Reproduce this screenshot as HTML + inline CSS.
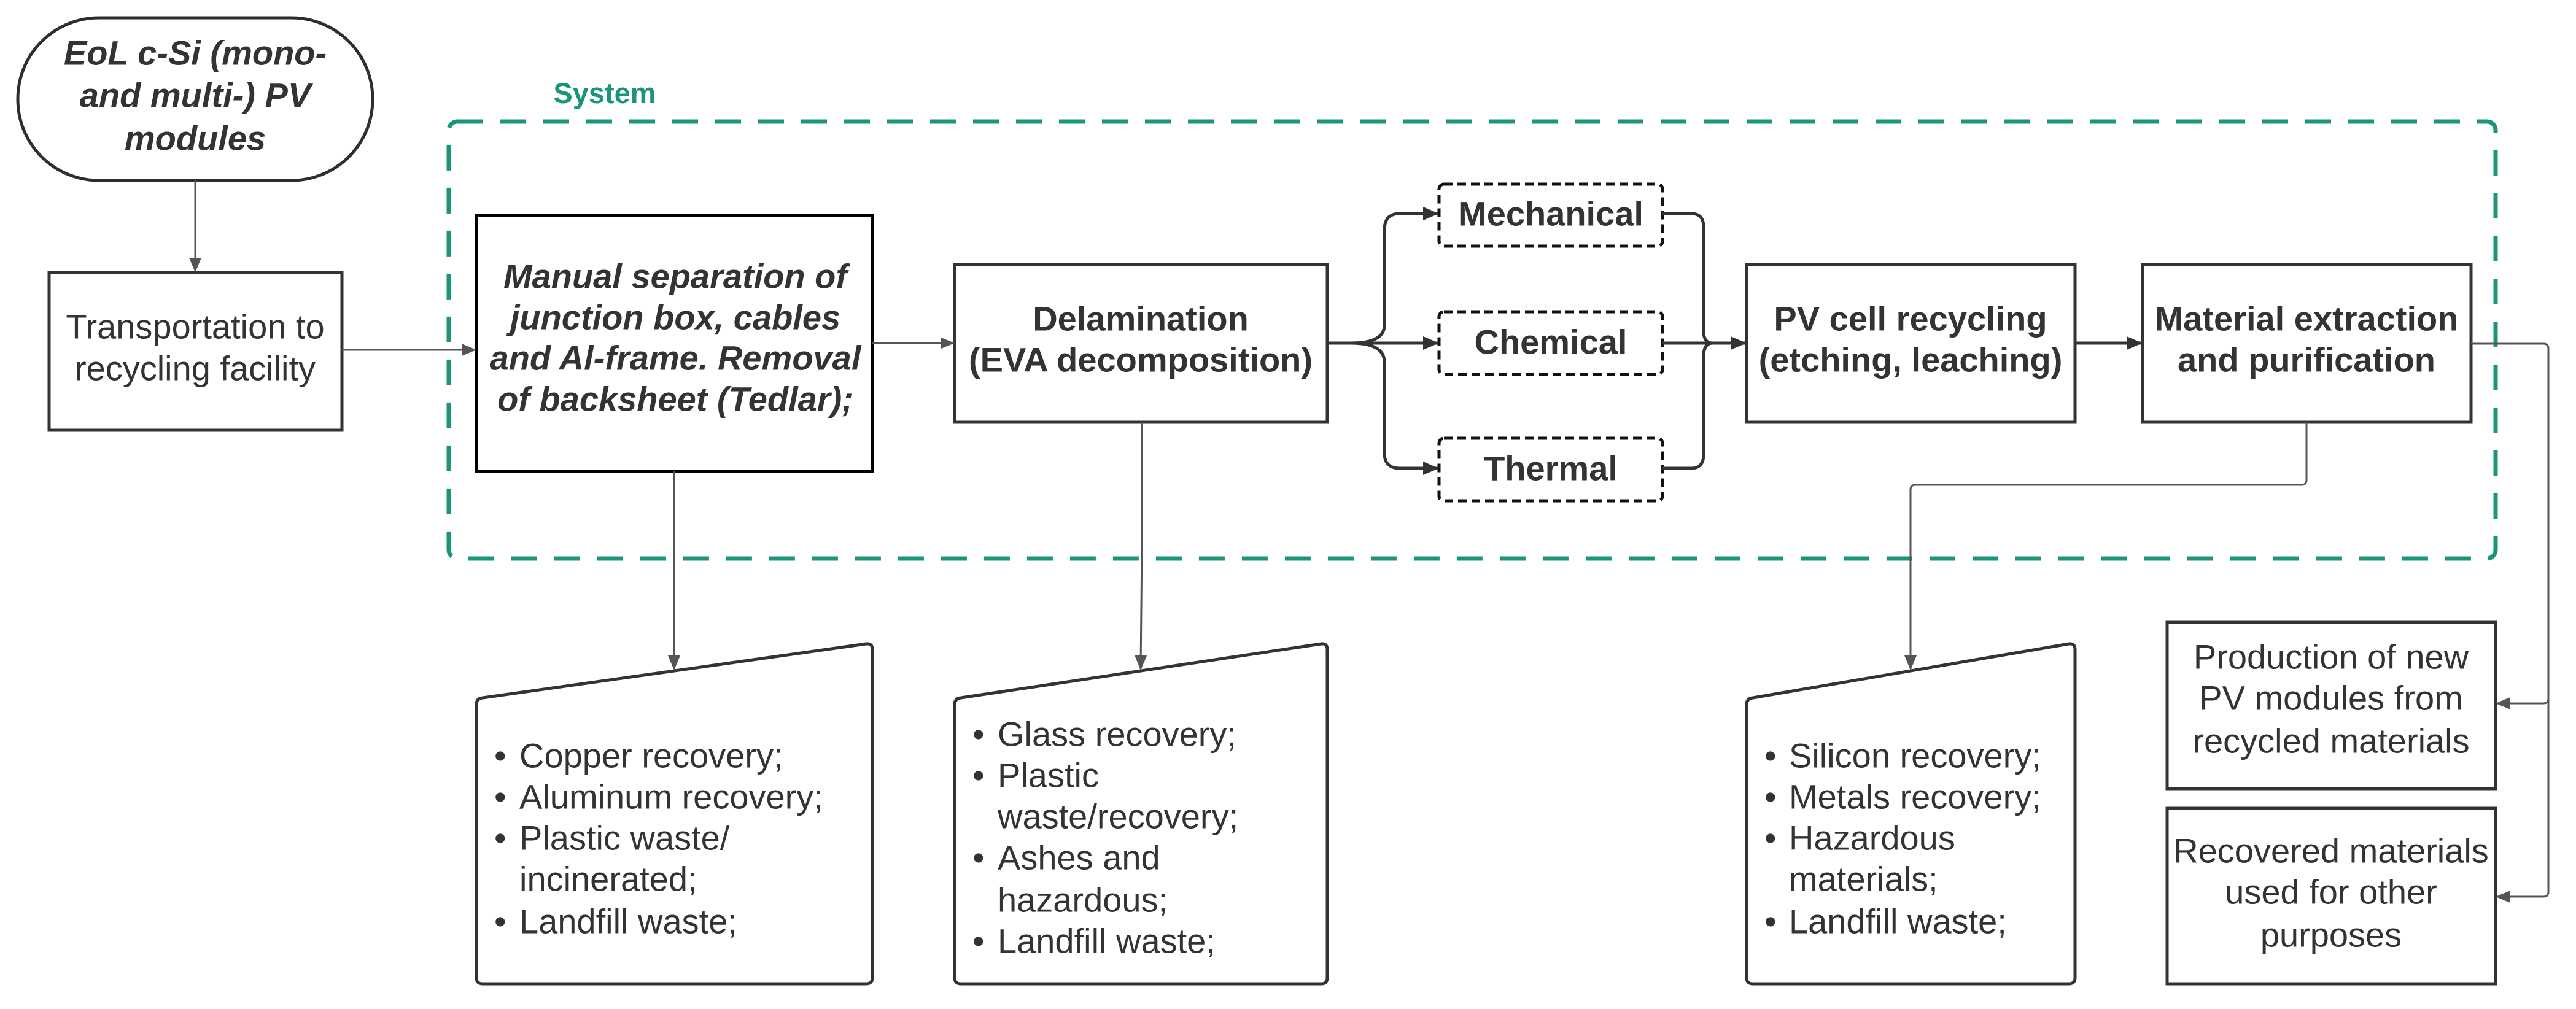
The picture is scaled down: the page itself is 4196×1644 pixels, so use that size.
<!DOCTYPE html>
<html><head><meta charset="utf-8"><style>
html,body{margin:0;padding:0;background:#fff;}
svg{display:block;}
text{font-family:"Liberation Sans",Arial,sans-serif;fill:#333;font-size:56px;}
.b{font-weight:bold;}
.bi{font-weight:bold;font-style:italic;}
</style></head><body>
<svg width="4196" height="1644" viewBox="0 0 4196 1644" xmlns="http://www.w3.org/2000/svg">
<defs>
<marker id="a" markerWidth="22" markerHeight="22" refX="20" refY="11" orient="auto" markerUnits="userSpaceOnUse" viewBox="0 0 22 22"><path d="M0,2 L22,11 L0,20 z" fill="#555"/></marker>
<marker id="at" markerWidth="26" markerHeight="26" refX="24" refY="13" orient="auto" markerUnits="userSpaceOnUse" viewBox="0 0 26 26"><path d="M0,2 L26,13 L0,24 z" fill="#333"/></marker>
<marker id="am" markerWidth="24" markerHeight="24" refX="22" refY="12" orient="auto" markerUnits="userSpaceOnUse" viewBox="0 0 24 24"><path d="M0,2 L24,12 L0,22 z" fill="#555"/></marker>
</defs>
<rect width="4196" height="1644" fill="#fff"/>
<rect x="731" y="198" width="3334" height="712" rx="14" fill="none" stroke="#1a957a" stroke-width="7" stroke-dasharray="42,28"/>
<text x="985" y="168" text-anchor="middle" class="b" style="fill:#1a957a;font-size:47px">System</text>

<rect x="29" y="29" width="578" height="265" rx="132" fill="#fff" stroke="#2b2e33" stroke-width="5"/>
<g text-anchor="middle" dominant-baseline="central">
<text x="318" y="86" class="bi">EoL c-Si (mono-</text>
<text x="318" y="155" class="bi">and multi-) PV</text>
<text x="318" y="225" class="bi">modules</text>
</g>
<rect x="80" y="444" width="477" height="257" fill="#fff" stroke="#333" stroke-width="5"/>
<text x="318" y="532" text-anchor="middle" dominant-baseline="central">Transportation to</text>
<text x="318" y="600" text-anchor="middle" dominant-baseline="central">recycling facility</text>
<rect x="776" y="351" width="645" height="417" fill="#fff" stroke="#000" stroke-width="6"/>
<g text-anchor="middle" dominant-baseline="central">
<text x="1100" y="450" class="bi">Manual separation of</text>
<text x="1100" y="517" class="bi">junction box, cables</text>
<text x="1100" y="583" class="bi">and Al-frame. Removal</text>
<text x="1100" y="650" class="bi">of backsheet (Tedlar);</text>
</g>
<rect x="1555" y="431" width="607" height="257" fill="#fff" stroke="#333" stroke-width="5"/>
<text x="1858" y="519" text-anchor="middle" dominant-baseline="central" class="b">Delamination</text>
<text x="1858" y="586" text-anchor="middle" dominant-baseline="central" class="b">(EVA decomposition)</text>
<g fill="#fff" stroke="#111" stroke-width="5" stroke-dasharray="14,8">
<rect x="2344" y="300" width="364" height="101" rx="8"/>
<rect x="2344" y="508" width="364" height="102" rx="8"/>
<rect x="2344" y="714" width="364" height="102" rx="8"/>
</g>
<text x="2526" y="348" text-anchor="middle" dominant-baseline="central" class="b">Mechanical</text>
<text x="2526" y="557" text-anchor="middle" dominant-baseline="central" class="b">Chemical</text>
<text x="2526" y="763" text-anchor="middle" dominant-baseline="central" class="b">Thermal</text>
<rect x="2845" y="431" width="535" height="257" fill="#fff" stroke="#333" stroke-width="5"/>
<text x="3112" y="519" text-anchor="middle" dominant-baseline="central" class="b">PV cell recycling</text>
<text x="3112" y="586" text-anchor="middle" dominant-baseline="central" class="b">(etching, leaching)</text>
<rect x="3490" y="431" width="535" height="257" fill="#fff" stroke="#333" stroke-width="5"/>
<text x="3757" y="519" text-anchor="middle" dominant-baseline="central" class="b">Material extraction</text>
<text x="3757" y="586" text-anchor="middle" dominant-baseline="central" class="b">and purification</text>

<g fill="#fff" stroke="#333" stroke-width="5">
<path d="M786,1137 L1411,1049 Q1421,1048 1421,1058 L1421,1593 Q1421,1603 1411,1603 L786,1603 Q776,1603 776,1593 L776,1148 Q776,1138 786,1137 Z"/>
<path d="M1565,1137 L2152,1049 Q2162,1048 2162,1058 L2162,1593 Q2162,1603 2152,1603 L1565,1603 Q1555,1603 1555,1593 L1555,1148 Q1555,1138 1565,1137 Z"/>
<path d="M2855,1137 L3370,1049 Q3380,1048 3380,1058 L3380,1593 Q3380,1603 3370,1603 L2855,1603 Q2845,1603 2845,1593 L2845,1148 Q2845,1138 2855,1137 Z"/>
</g>
<g dominant-baseline="central">
<text x="805" y="1231">•</text><text x="846" y="1231">Copper recovery;</text>
<text x="805" y="1298">•</text><text x="846" y="1298">Aluminum recovery;</text>
<text x="805" y="1365">•</text><text x="846" y="1365">Plastic waste/</text>
<text x="846" y="1432">incinerated;</text>
<text x="805" y="1501">•</text><text x="846" y="1501">Landfill waste;</text>

<text x="1584" y="1196">•</text><text x="1625" y="1196">Glass recovery;</text>
<text x="1584" y="1263">•</text><text x="1625" y="1263">Plastic</text>
<text x="1625" y="1330">waste/recovery;</text>
<text x="1584" y="1397">•</text><text x="1625" y="1397">Ashes and</text>
<text x="1625" y="1466">hazardous;</text>
<text x="1584" y="1533">•</text><text x="1625" y="1533">Landfill waste;</text>

<text x="2874" y="1231">•</text><text x="2914" y="1231">Silicon recovery;</text>
<text x="2874" y="1298">•</text><text x="2914" y="1298">Metals recovery;</text>
<text x="2874" y="1365">•</text><text x="2914" y="1365">Hazardous</text>
<text x="2914" y="1432">materials;</text>
<text x="2874" y="1501">•</text><text x="2914" y="1501">Landfill waste;</text>
</g>

<rect x="3530" y="1014" width="535" height="271" fill="#fff" stroke="#333" stroke-width="5"/>
<text x="3797" y="1070" text-anchor="middle" dominant-baseline="central">Production of new</text>
<text x="3797" y="1137" text-anchor="middle" dominant-baseline="central">PV modules from</text>
<text x="3797" y="1207" text-anchor="middle" dominant-baseline="central">recycled materials</text>
<rect x="3530" y="1317" width="535" height="286" fill="#fff" stroke="#333" stroke-width="5"/>
<text x="3797" y="1386" text-anchor="middle" dominant-baseline="central">Recovered materials</text>
<text x="3797" y="1453" text-anchor="middle" dominant-baseline="central">used for other</text>
<text x="3797" y="1523" text-anchor="middle" dominant-baseline="central">purposes</text>

<g fill="none" stroke="#555" stroke-width="3">
<path d="M318,294 L318,442" marker-end="url(#am)"/>
<path d="M557,570 L774,570" marker-end="url(#am)"/>
<path d="M1421,559 L1553,559" marker-end="url(#a)"/>
<path d="M1098,768 L1098,1090" marker-end="url(#am)"/>
<path d="M1860,688 L1860,888 L1858,1090" marker-end="url(#am)"/>
<path d="M3757,688 L3757,782 Q3757,790 3749,790 L3120,790 Q3112,790 3112,798 L3112,1090" marker-end="url(#am)"/>
<path d="M4025,560 L4143,560 Q4151,560 4151,568 L4151,1138 Q4151,1146 4143,1146 L4067,1146" marker-end="url(#am)"/>
<path d="M4151,1140 L4151,1453 Q4151,1461 4143,1461 L4067,1461" marker-end="url(#am)"/>
</g>
<g fill="none" stroke="#333" stroke-width="5">
<path d="M2162,559 L2342,559" marker-end="url(#at)"/>
<path d="M2200,559 Q2255,559 2255,530 L2255,375 Q2255,348 2280,348 L2342,348" marker-end="url(#at)"/>
<path d="M2200,559 Q2255,559 2255,590 L2255,738 Q2255,763 2280,763 L2342,763" marker-end="url(#at)"/>
<path d="M2708,348 L2755,348 Q2775,348 2775,370 L2775,540 Q2775,559 2790,559"/>
<path d="M2708,763 L2755,763 Q2775,763 2775,740 L2775,580 Q2775,559 2790,559"/>
<path d="M2708,559 L2843,559" marker-end="url(#at)"/>
<path d="M3380,559 L3488,559" marker-end="url(#at)"/>
</g>
</svg>
</body></html>
